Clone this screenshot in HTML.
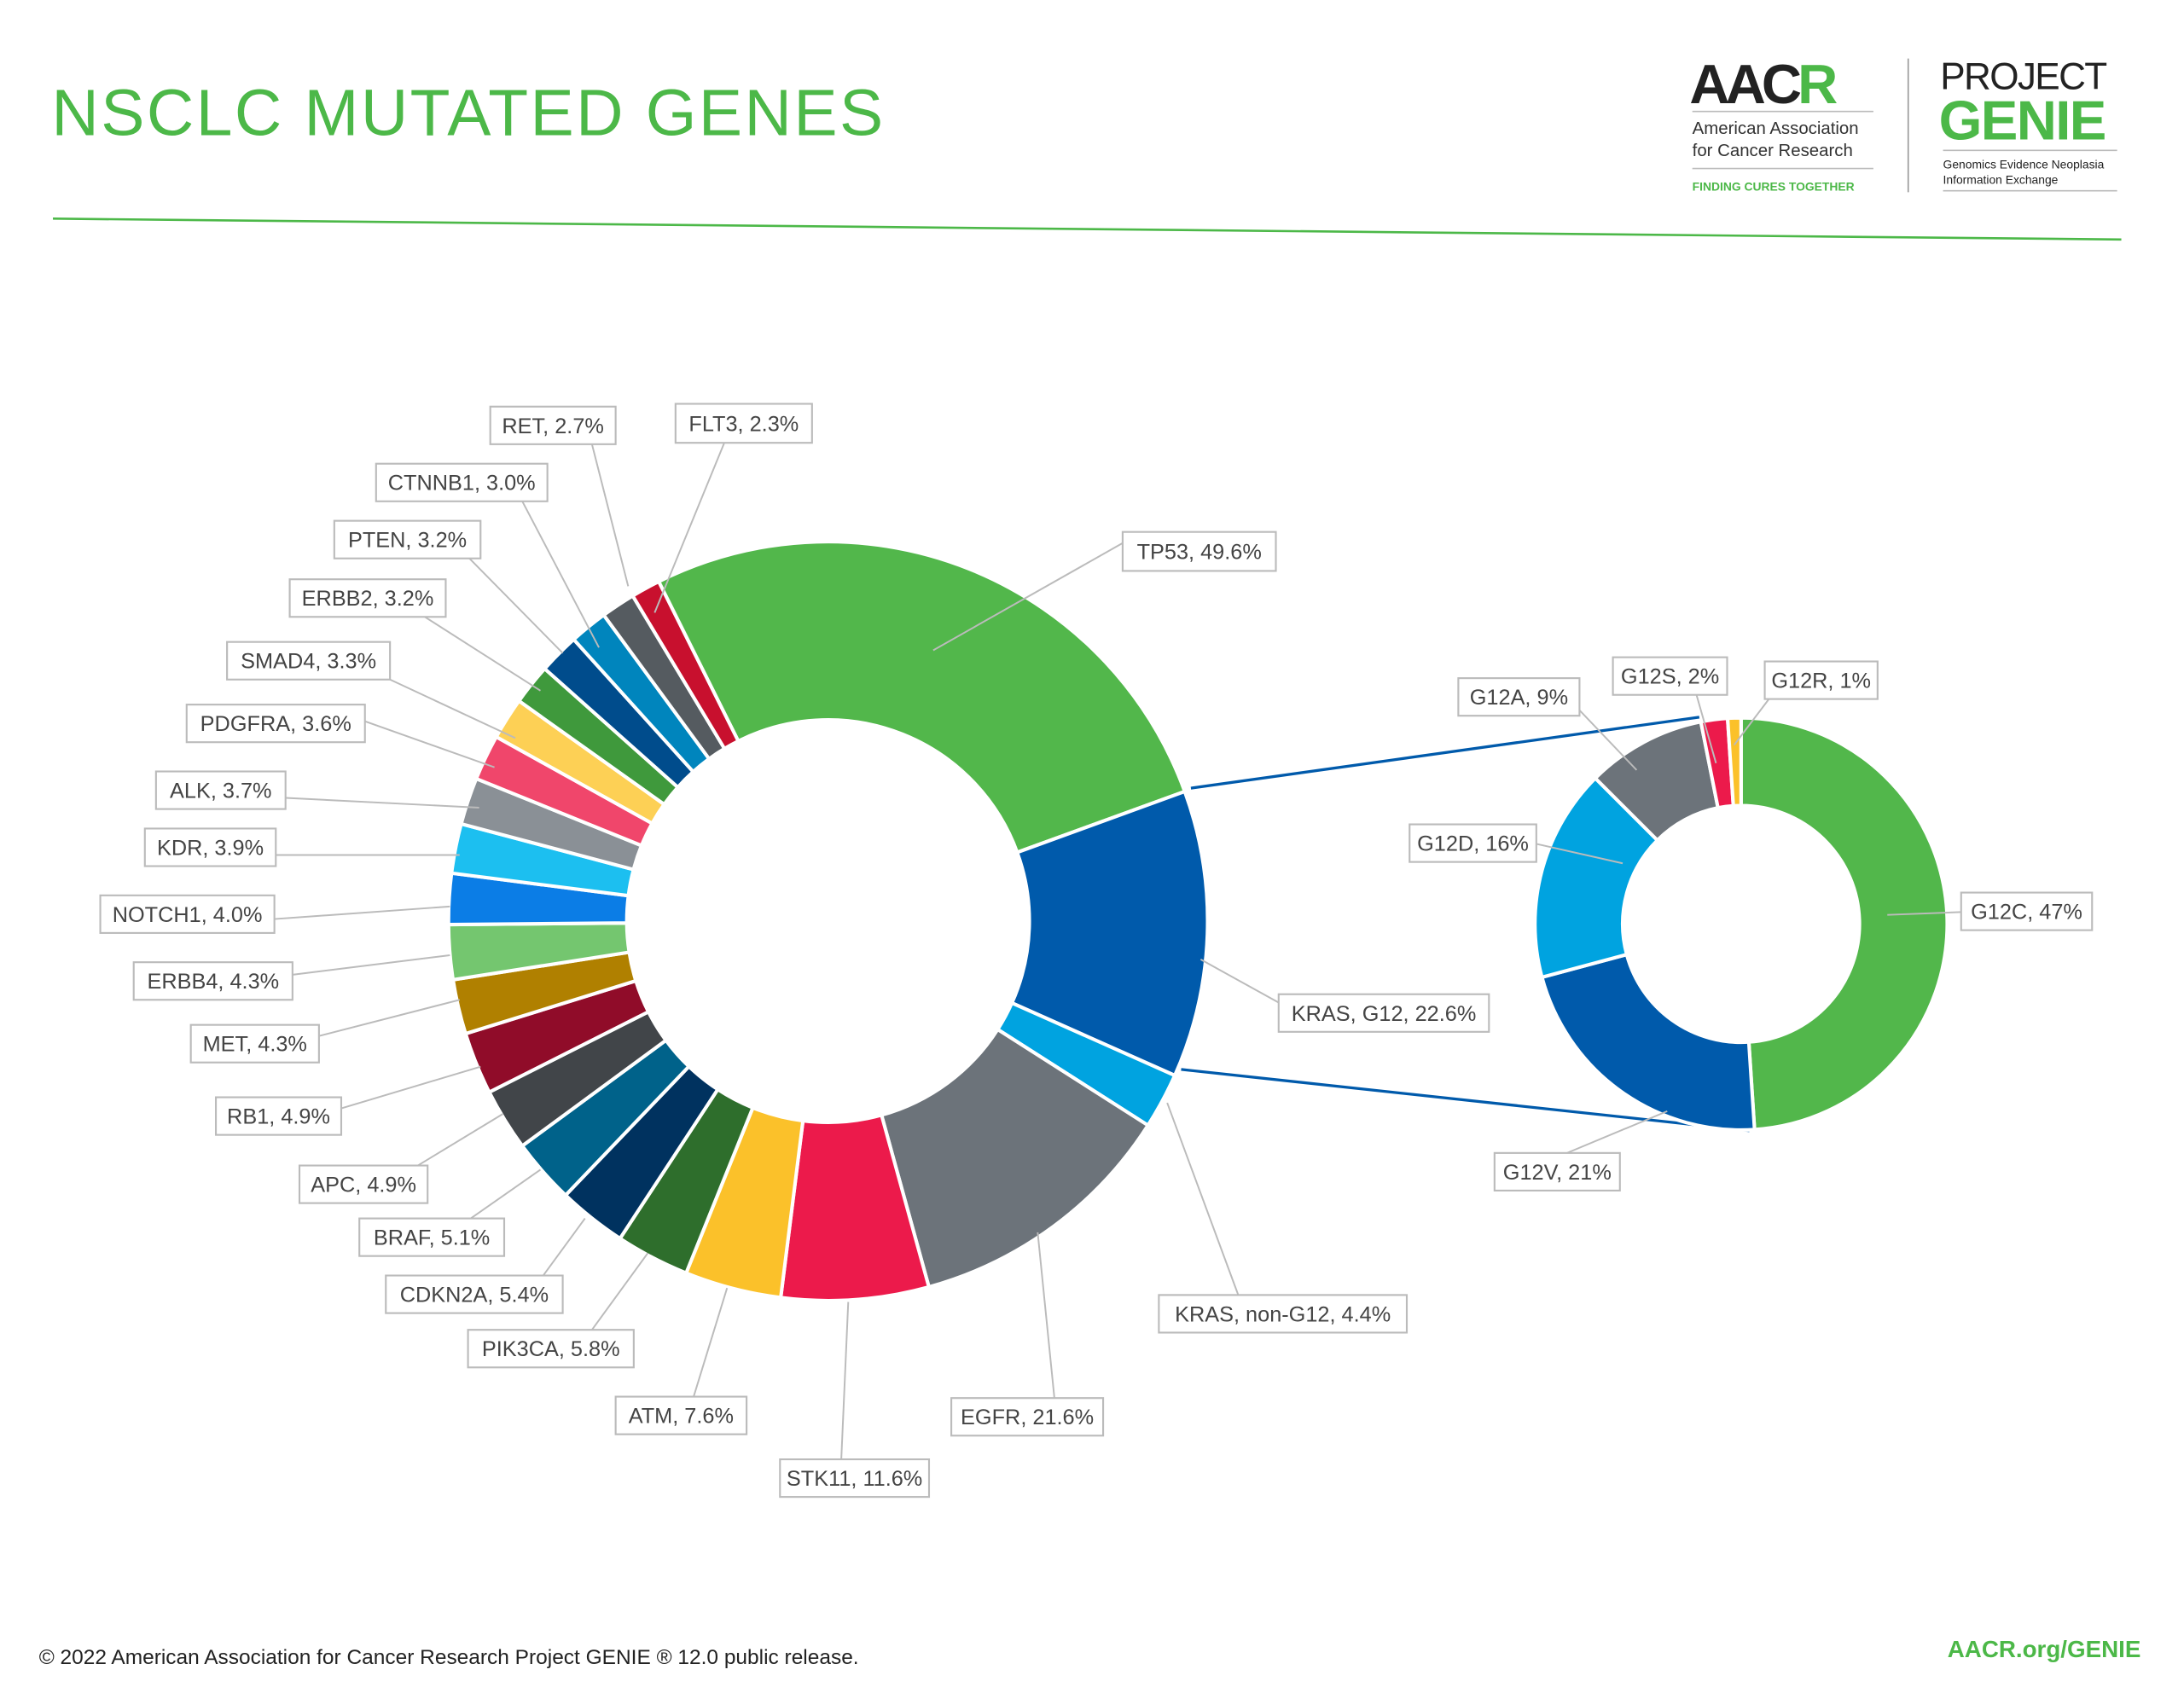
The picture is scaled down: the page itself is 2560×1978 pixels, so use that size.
<!DOCTYPE html>
<html><head><meta charset="utf-8">
<style>
html,body{margin:0;padding:0;background:#fff;}
svg{display:block;}
text{font-family:"Liberation Sans",sans-serif;}
</style></head>
<body>
<svg id="s" width="2560" height="1978" viewBox="0 0 1568 1211.5" xmlns="http://www.w3.org/2000/svg">
<rect width="1568" height="1211.5" fill="#fff"/>
<text x="37" y="97" font-size="47" fill="#4cb848" letter-spacing="1.5">NSCLC MUTATED GENES</text>
<line x1="38" y1="157" x2="1523" y2="172" stroke="#4cb848" stroke-width="1.6"/>
<!-- logos -->
<text x="1213" y="74" font-size="40" font-weight="bold" fill="#222" letter-spacing="-3">AAC<tspan fill="#4cb848">R</tspan></text>
<line x1="1215" y1="80" x2="1345" y2="80" stroke="#bbb" stroke-width="1"/>
<text x="1215" y="96" font-size="12.5" fill="#333">American Association</text>
<text x="1215" y="112" font-size="12.5" fill="#333">for Cancer Research</text>
<line x1="1215" y1="121" x2="1345" y2="121" stroke="#bbb" stroke-width="1"/>
<text x="1215" y="137" font-size="8.5" font-weight="bold" fill="#4cb848">FINDING CURES TOGETHER</text>
<line x1="1370" y1="42" x2="1370" y2="138" stroke="#999" stroke-width="1"/>
<text x="1393" y="64" font-size="27" fill="#222" letter-spacing="-1">PROJECT</text>
<text x="1392" y="100" font-size="40" font-weight="bold" fill="#4cb848" letter-spacing="-1">GENIE</text>
<line x1="1395" y1="108" x2="1520" y2="108" stroke="#bbb" stroke-width="1"/>
<text x="1395" y="121" font-size="8.5" fill="#222">Genomics Evidence Neoplasia</text>
<text x="1395" y="132" font-size="8.5" fill="#222">Information Exchange</text>
<line x1="1395" y1="137" x2="1520" y2="137" stroke="#bbb" stroke-width="1"/>
<!-- connectors -->
<line x1="855" y1="566" x2="1220" y2="515" stroke="#005aab" stroke-width="2"/>
<line x1="848" y1="768" x2="1256" y2="812" stroke="#005aab" stroke-width="2"/>
<g id="main"></g>
<g id="small"></g>
<g id="labels" stroke="#bbb" stroke-width="1.2" fill="none"></g>
<g id="ltext"></g>
<text x="28" y="1195" font-size="15" fill="#222">© 2022 American Association for Cancer Research Project GENIE ® 12.0 public release.</text>
<text x="1537" y="1190" font-size="17" font-weight="bold" fill="#4cb848" text-anchor="end">AACR.org/GENIE</text>
</svg>
<script>
var NS="http://www.w3.org/2000/svg";
function pt(cx,cy,r,a){a=a*Math.PI/180;return [cx+r*Math.sin(a),cy-r*Math.cos(a)];}
function arc(cx,cy,ro,ri,a0,a1,col,g){
 var p1=pt(cx,cy,ro,a0),p2=pt(cx,cy,ro,a1),p3=pt(cx,cy,ri,a1),p4=pt(cx,cy,ri,a0);
 var l=(a1-a0)>180?1:0;
 var d="M"+p1+"A"+ro+","+ro+" 0 "+l+" 1 "+p2+"L"+p3+"A"+ri+","+ri+" 0 "+l+" 0 "+p4+"Z";
 var e=document.createElementNS(NS,"path");e.setAttribute("d",d);e.setAttribute("fill",col);
 e.setAttribute("stroke","#fff");e.setAttribute("stroke-width","2.5");g.appendChild(e);}
var main=[[49.6,"#52b74b"],[22.6,"#005aab"],[4.4,"#00a3e0"],[21.6,"#6c737a"],[11.6,"#ec1a4b"],[7.6,"#fbc12a"],[5.8,"#2e6e2c"],[5.4,"#00325f"],[5.1,"#00628a"],[4.9,"#414549"],[4.9,"#900c29"],[4.3,"#b08000"],[4.3,"#74c66f"],[4.0,"#0b7de6"],[3.9,"#1cbff0"],[3.7,"#8a9096"],[3.6,"#f0466b"],[3.3,"#fdd055"],[3.2,"#3f993c"],[3.2,"#004c8c"],[3.0,"#0085bd"],[2.7,"#555b60"],[2.3,"#c8102e"]];
var tot=0;main.forEach(function(m){tot+=m[0];});
var a=-26.5,g=document.getElementById("main");
main.forEach(function(m){var s=m[0]/tot*360;arc(594.5,661.5,272.5,144.5,a,a+s,m[1],g);a+=s;});
var small=[[47,"#52b74b"],[21,"#005aab"],[16,"#00a3e0"],[9,"#6c737a"],[2,"#ec1a4b"],[1,"#fbc12a"]];
a=0;g=document.getElementById("small");
small.forEach(function(m){var s=m[0]/96*360;arc(1250,663.5,148,85,a,a+s,m[1],g);a+=s;});
var L=[
["RET, 2.7%",352,292,442,319,425,319,451,421],
["FLT3, 2.3%",485,290,583,318,520,318,470,440],
["CTNNB1, 3.0%",270,333,393,360,375,360,430,465],
["PTEN, 3.2%",240,374,345,401,337,401,404,469],
["ERBB2, 3.2%",208,416,320,443,305,443,388,496],
["SMAD4, 3.3%",163,461,280,488,280,488,370,530],
["PDGFRA, 3.6%",134,506,262,533,262,518,355,551],
["ALK, 3.7%",112,554,205,581,205,573,344,580],
["KDR, 3.9%",104,595,198,622,198,614,330,614],
["NOTCH1, 4.0%",72,643,197,670,197,660,323,651],
["ERBB4, 4.3%",96,691,210,718,210,700,323,686],
["MET, 4.3%",137,736,229,763,229,744,330,718],
["RB1, 4.9%",155,788,245,815,245,796,345,766],
["APC, 4.9%",215,837,307,864,300,837,361,800],
["BRAF, 5.1%",258,875,362,902,338,875,388,840],
["CDKN2A, 5.4%",277,916,404,943,390,916,420,875],
["PIK3CA, 5.8%",336,955,455,982,425,955,465,900],
["ATM, 7.6%",442,1003,536,1030,498,1003,522,925],
["STK11, 11.6%",560,1048,667,1075,604,1048,609,935],
["EGFR, 21.6%",683,1004,792,1031,757,1004,745,885],
["KRAS, non-G12, 4.4%",832,930,1010,957,889,930,838,792],
["KRAS, G12, 22.6%",918,714,1069,741,918,720,862,689],
["TP53, 49.6%",806,382,916,410,806,390,670,467],
["G12A, 9%",1047,487,1134,514,1134,510,1175,553],
["G12S, 2%",1158,472,1240,499,1218,499,1232,548],
["G12R, 1%",1267,475,1348,502,1270,502,1245,535],
["G12D, 16%",1012,592,1103,619,1103,606,1165,620],
["G12C, 47%",1408,641,1502,668,1408,655,1355,657],
["G12V, 21%",1073,828,1163,855,1125,828,1197,798]];
var lg=document.getElementById("labels"),tg=document.getElementById("ltext");
L.forEach(function(l){
 var ln=document.createElementNS(NS,"line");ln.setAttribute("x1",l[5]);ln.setAttribute("y1",l[6]);ln.setAttribute("x2",l[7]);ln.setAttribute("y2",l[8]);lg.appendChild(ln);
 var r=document.createElementNS(NS,"rect");r.setAttribute("x",l[1]);r.setAttribute("y",l[2]);r.setAttribute("width",l[3]-l[1]);r.setAttribute("height",l[4]-l[2]);r.setAttribute("fill","#fff");r.setAttribute("stroke","#bbb");r.setAttribute("stroke-width","1.3");tg.appendChild(r);
 var t=document.createElementNS(NS,"text");t.setAttribute("x",(l[1]+l[3])/2);t.setAttribute("y",(l[2]+l[4])/2+5.5);t.setAttribute("text-anchor","middle");t.setAttribute("font-size","15.5");t.setAttribute("fill","#444");t.textContent=l[0];tg.appendChild(t);
});
</script>
</body></html>
